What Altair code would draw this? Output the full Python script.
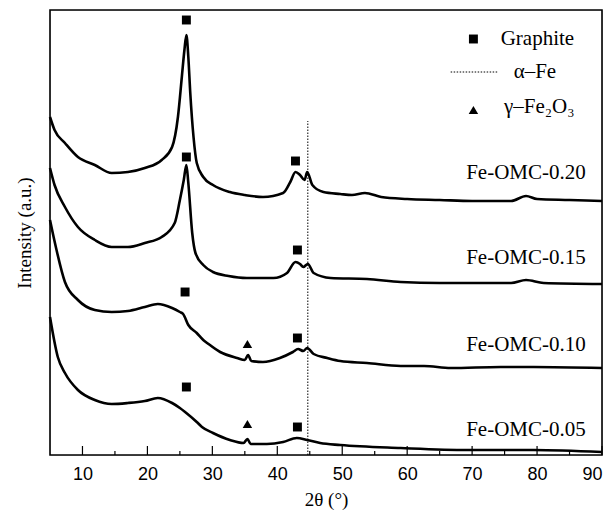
import altair as alt
import pandas as pd

# ---------------- data ----------------
sample_names = ["Fe-OMC-0.20", "Fe-OMC-0.15", "Fe-OMC-0.10", "Fe-OMC-0.05"]

tt_020 = [5, 5.7, 7.3, 9.3, 11.9, 14.5, 17.0, 19.6, 22.2, 23.8, 24.7, 25.3, 25.7, 26.0,
          26.3, 26.6, 27.1, 27.6, 28.6, 30.1, 32.7, 35, 37.8, 40.9, 42.0, 42.8, 43.5, 44.2,
          44.6, 45.4, 47.1, 49.7, 51.5, 53.5, 56, 60, 65, 70, 76, 78.3, 80, 85, 90]
int_020 = [338, 325, 312, 298, 290, 282, 283, 287, 295, 308, 338, 378, 405, 420,
           398, 362, 318, 292, 278, 270, 263, 260, 258, 262, 273, 283, 280, 275,
           283, 270, 263, 261, 260, 262, 258, 256, 255, 254, 254, 259, 256, 255, 254]

tt_015 = [5, 5.7, 7.3, 9.3, 11.9, 14.5, 17.0, 19.6, 22.2, 24.2, 25.0, 25.6, 26.0, 26.3, 26.9,
          27.4, 28.6, 30.1, 32.5, 35.3, 39.4, 41.5, 42.8, 43.5, 44.0, 44.7, 45.6, 48.2, 53.8,
          59, 65, 69.3, 76, 78.3, 81, 90]
int_015 = [287, 270, 248, 228, 215, 208, 208, 212, 218, 232, 255, 275, 290, 272, 222,
           202, 190, 183, 179, 177, 177, 182, 193, 191, 188, 191, 182, 177, 176,
           173, 172, 172, 172, 175, 172, 171]

tt_010 = [5, 5.9, 7.3, 9.3, 11.9, 14.5, 17, 19.6, 21.6, 23.8, 25.0, 25.5, 26.3, 27.6, 28.6,
          29.2, 31.2, 33.8, 35.0, 35.5, 36.0, 37.8, 40.4, 42.4, 43.2, 44.0, 44.6, 45.6, 47.7,
          49.7, 53.8, 59, 62.6, 66.7, 74.4, 79.5, 90]
int_010 = [235, 208, 173, 155, 145, 143, 144, 148, 151, 147, 143, 141, 130, 122, 115,
           112, 103, 97, 95, 100, 94, 93, 97, 103, 106, 104, 107, 101, 97,
           94, 92, 89, 89, 87, 88, 88, 87]

tt_005 = [5, 6.2, 7.3, 9.3, 11.9, 14.5, 17, 19.6, 21.6, 23.8, 25.0, 25.8, 27.6, 28.4, 30.1,
          32.7, 34.8, 35.4, 35.9, 38.4, 40.9, 43.0, 44.6, 46.6, 49.7, 59, 69.3, 79.5, 90]
int_005 = [138, 98, 82, 65, 55, 51, 52, 54, 57, 52, 47, 43, 33, 28, 22,
           15, 12, 16, 11, 11, 13, 17, 15, 12, 10, 7, 5, 5, 3]

# peak markers
square_tt = [26.0, 42.8, 26.0, 43.1, 25.8, 43.1, 26.0, 43.1]
square_int = [435, 294, 298, 205, 163, 117, 68, 28]
triangle_tt = [35.4, 35.4]
triangle_int = [111, 31]

# alpha-Fe reference line
alpha_fe_tt = 44.7
alpha_fe_top = 334

# sample labels
label_tt = [87.5, 87.5, 87.5, 87.5]
label_int = [282, 197, 110, 25]

# legend
legend_sym_tt = [70.2]
legend_square_int = [416]
legend_tri_int = [345]
legend_line_tt = [66.7, 74.0]
legend_line_int = 383
legend_text = ["Graphite", "α–Fe", "γ–Fe₂O₃"]
legend_text_tt = [74.4, 76.4, 74.9]
legend_text_int = [416, 383, 348]

major_ticks = [10, 20, 30, 40, 50, 60, 70, 80, 90]
minor_ticks = [15, 25, 35, 45, 55, 65, 75, 85]

x_limits = [5, 90]
y_limits = [0, 445]

# ---------------- tables ----------------
rows = []
for name, xs, ys in zip(sample_names, [tt_020, tt_015, tt_010, tt_005],
                        [int_020, int_015, int_010, int_005]):
    for a, b in zip(xs, ys):
        rows.append({"sample": name, "two_theta": a, "intensity": b})
curves = pd.DataFrame(rows)

squares = pd.DataFrame({"two_theta": square_tt + legend_sym_tt,
                        "intensity": square_int + legend_square_int})
triangles = pd.DataFrame({"two_theta": triangle_tt + legend_sym_tt,
                          "intensity": triangle_int + legend_tri_int})
alpha_df = pd.DataFrame({"two_theta": [alpha_fe_tt], "intensity": [0], "intensity2": [alpha_fe_top]})
leg_line_df = pd.DataFrame({"two_theta": [legend_line_tt[0]], "two_theta2": [legend_line_tt[1]],
                            "intensity": [legend_line_int]})
labels_df = pd.DataFrame({"two_theta": label_tt, "intensity": label_int, "text": sample_names})
leg_text_df = pd.DataFrame({"two_theta": legend_text_tt, "intensity": legend_text_int,
                            "text": legend_text})
major_df = pd.DataFrame({"two_theta": major_ticks})
minor_df = pd.DataFrame({"two_theta": minor_ticks})
frame_df = pd.DataFrame({"two_theta": [x_limits[0]], "two_theta2": [x_limits[1]],
                         "intensity": [y_limits[0]], "intensity2": [y_limits[1]]})

SERIF = "Liberation Serif"
SANS = "Liberation Sans"

x_scale = alt.Scale(domain=x_limits, nice=False, zero=False)
y_scale = alt.Scale(domain=y_limits, nice=False, zero=False)

x_enc = alt.X("two_theta:Q", scale=x_scale,
              axis=alt.Axis(values=major_ticks, ticks=False, domain=False, grid=False,
                            labelFont=SANS, labelFontSize=18, labelColor="black",
                            labelPadding=10, title="2θ (°)", titleFont=SERIF,
                            titleFontSize=19, titleFontWeight="normal", titleColor="black",
                            titlePadding=7))
y_enc = alt.Y("intensity:Q", scale=y_scale,
              axis=alt.Axis(labels=False, ticks=False, domain=False, grid=False,
                            title="Intensity (a.u.)", titleFont=SERIF, titleFontSize=19,
                            titleFontWeight="normal", titleColor="black", titlePadding=16))

lines = alt.Chart(curves).mark_line(color="black", strokeWidth=2.6, interpolate="monotone").encode(
    x=x_enc, y=y_enc, detail="sample:N")

sq = alt.Chart(squares).mark_point(shape="square", filled=True, size=80, color="black",
                                    opacity=1).encode(x=x_enc, y=y_enc)
tri = alt.Chart(triangles).mark_point(shape="triangle-up", filled=True, size=90, color="black",
                                       opacity=1).encode(x=x_enc, y=y_enc)

alpha_line = alt.Chart(alpha_df).mark_rule(color="black", strokeWidth=1, strokeDash=[1.5, 1.5]).encode(
    x=x_enc, y=y_enc, y2="intensity2:Q")
leg_line = alt.Chart(leg_line_df).mark_rule(color="black", strokeWidth=1, strokeDash=[1.5, 1.5]).encode(
    x=x_enc, x2="two_theta2:Q", y=y_enc)

labels = alt.Chart(labels_df).mark_text(font=SERIF, fontSize=21, align="right",
                                        baseline="middle", color="black").encode(
    x=x_enc, y=y_enc, text="text:N")
leg_text = alt.Chart(leg_text_df).mark_text(font=SERIF, fontSize=21, align="left",
                                            baseline="middle", color="black").encode(
    x=x_enc, y=y_enc, text="text:N")

major = alt.Chart(major_df).mark_rule(color="black", strokeWidth=1.2).encode(
    x=x_enc, y=alt.value(445), y2=alt.value(436))
minor = alt.Chart(minor_df).mark_rule(color="black", strokeWidth=1.2).encode(
    x=x_enc, y=alt.value(445), y2=alt.value(441))

frame = alt.Chart(frame_df).mark_rect(filled=False, stroke="black", strokeWidth=1.6,
                                      clip=False).encode(
    x=x_enc, x2="two_theta2:Q", y=y_enc, y2="intensity2:Q")

chart = alt.layer(lines, alpha_line, sq, tri, leg_line, labels, leg_text, major, minor,
                  frame).properties(
    width=552, height=445,
    padding={"left": 42, "top": 2, "right": 2, "bottom": 58},
    autosize=alt.AutoSizeParams(type="none"),
    background="white",
)

chart.save("out.html", embed_options={"renderer": "svg", "actions": False})
